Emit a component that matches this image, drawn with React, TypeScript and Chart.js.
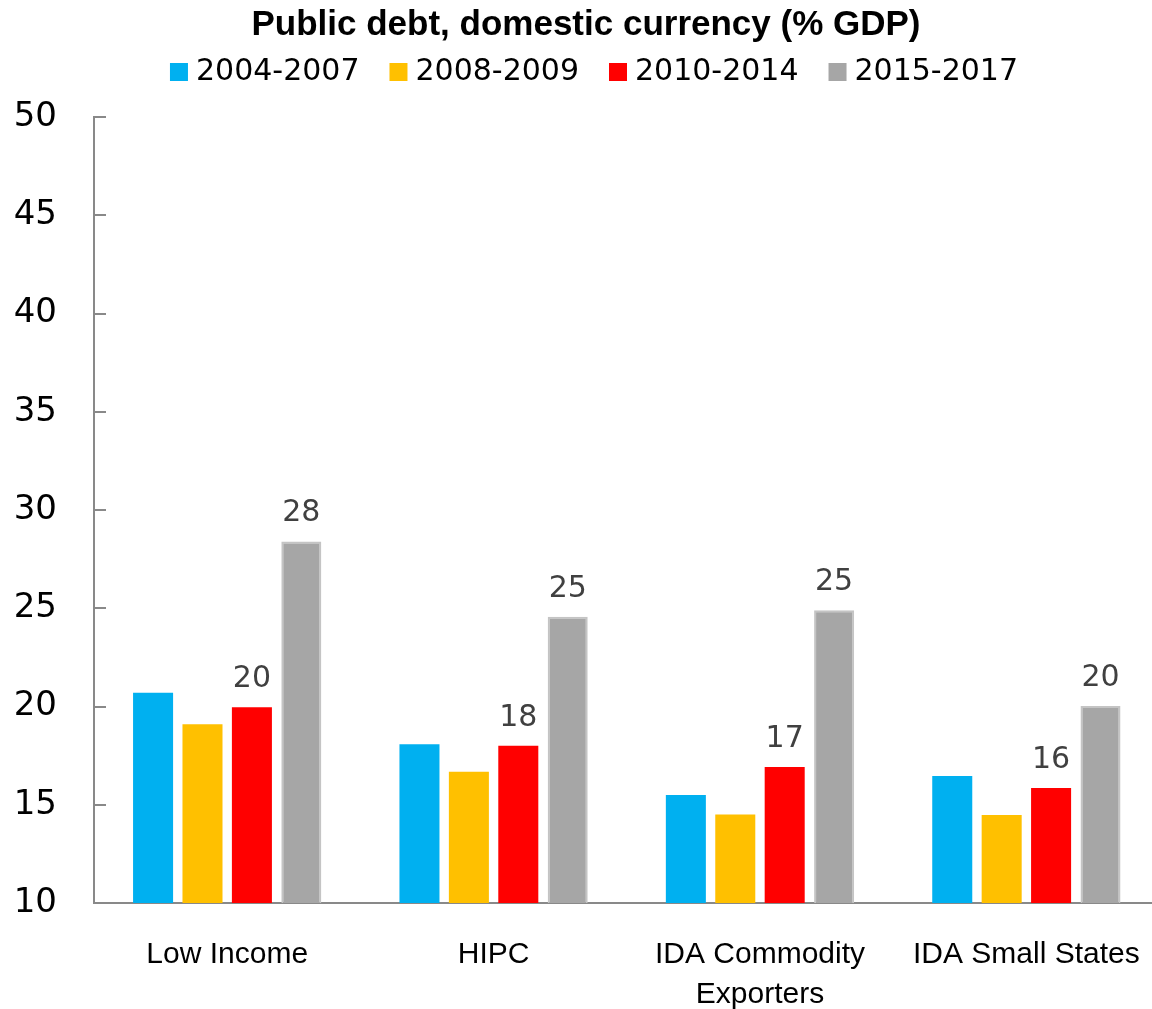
import React, { useEffect, useRef } from "react";
import { Chart, registerables } from "chart.js";

Chart.register(...registerables);

const TITLE = "Public debt, domestic currency (% GDP)";
const categories: (string | string[])[] = ["Low Income", "HIPC", ["IDA Commodity", "Exporters"], "IDA Small States"];
const seriesLabels = ["2004-2007", "2008-2009", "2010-2014", "2015-2017"];
const seriesColors = ["#00B0F0", "#FFC000", "#FF0000", "#A6A6A6"];
const values2004_2007 = [20.7, 18.08, 15.5, 16.46];
const values2008_2009 = [19.1, 16.68, 14.5, 14.48];
const values2010_2014 = [19.96, 18.0, 16.92, 15.85];
const values2015_2017 = [28.4, 24.57, 24.9, 20.03];
const labelledSeries = [2, 3];
const yMin = 10;
const yMax = 50;
const yStep = 5;

const W = 1172;
const H = 1009;

export default function App() {
  const ref = useRef<HTMLCanvasElement | null>(null);

  useEffect(() => {
    document.body.style.margin = "0";
    document.body.style.overflow = "hidden";
    const canvas = ref.current;
    if (!canvas) return;

    const all = [values2004_2007, values2008_2009, values2010_2014, values2015_2017];

    const decor = {
      id: "decor",
      afterDraw(chart: any) {
        const ctx = chart.ctx;
        const area = chart.chartArea;
        ctx.save();
        // title
        ctx.fillStyle = "#000";
        ctx.font = "bold 35px 'Liberation Sans', Arial, sans-serif";
        ctx.textAlign = "center";
        ctx.textBaseline = "alphabetic";
        ctx.fillText(TITLE, 586, 35);
        // legend
        ctx.font = "30px 'DejaVu Sans', sans-serif";
        const box = 18;
        const gap = 8;
        const itemGap = 30;
        const widths = seriesLabels.map((l) => ctx.measureText(l).width);
        const total = widths.reduce((a, w) => a + box + gap + w, 0) + itemGap * (seriesLabels.length - 1);
        let x = 594 - total / 2;
        ctx.textAlign = "left";
        seriesLabels.forEach((l, i) => {
          ctx.fillStyle = seriesColors[i];
          ctx.fillRect(x, 63, box, box);
          ctx.fillStyle = "#000";
          ctx.fillText(l, x + box + gap, 80);
          x += box + gap + widths[i] + itemGap;
        });
        // inward y tick marks
        const ys = chart.scales.y;
        ctx.strokeStyle = "#898989";
        ctx.lineWidth = 2;
        for (let v = yMin; v <= yMax; v += yStep) {
          const py = Math.round(ys.getPixelForValue(v));
          ctx.beginPath();
          ctx.moveTo(area.left, py);
          ctx.lineTo(area.left + 12, py);
          ctx.stroke();
        }
        // data labels
        ctx.fillStyle = "#404040";
        ctx.font = "30px 'DejaVu Sans', sans-serif";
        ctx.textAlign = "center";
        ctx.textBaseline = "alphabetic";
        labelledSeries.forEach((di) => {
          const meta = chart.getDatasetMeta(di);
          meta.data.forEach((bar: any, j: number) => {
            const v = all[di][j];
            ctx.fillText(String(Math.round(v)), bar.x, bar.y - 20);
          });
        });
        ctx.restore();
      },
    };

    const chart = new Chart(canvas, {
      type: "bar",
      data: {
        labels: categories as any,
        datasets: all.map((d, i) => ({
          label: seriesLabels[i],
          data: d,
          backgroundColor: seriesColors[i],
          borderColor: i === 3 ? "#C4C4C4" : seriesColors[i],
          borderWidth: i === 3 ? 2 : 0,
          categoryPercentage: 0.742,
          barPercentage: 0.81,
        })),
      },
      options: {
        responsive: false,
        animation: false,
        layout: { padding: { top: 117, right: 10, left: 0, bottom: 0 } },
        plugins: {
          legend: { display: false },
          title: { display: false },
          tooltip: { enabled: false },
        },
        scales: {
          x: {
            grid: { display: false, drawTicks: false },
            border: { display: true, color: "#898989", width: 2 },
            ticks: {
              color: "#000",
              padding: 31,
              maxRotation: 0,
              autoSkip: false,
              font: { family: "'Liberation Sans', Arial, sans-serif", size: 30, lineHeight: 1.35 },
            },
            afterFit(scale: any) {
              scale.height = 106;
            },
          },
          y: {
            min: yMin,
            max: yMax,
            grid: { display: false, drawTicks: false },
            border: { display: true, color: "#898989", width: 2 },
            ticks: {
              stepSize: yStep,
              color: "#000",
              padding: 37,
              font: { family: "'DejaVu Sans', sans-serif", size: 34 },
            },
            afterFit(scale: any) {
              scale.width = 94;
            },
          },
        },
      },
      plugins: [decor],
    });

    return () => chart.destroy();
  }, []);

  return (
    <div style={{ width: 1152, height: H, overflow: "hidden", position: "relative", background: "#fff" }}>
      <canvas ref={ref} width={W} height={H} style={{ display: "block", width: W, height: H }} />
    </div>
  );
}
